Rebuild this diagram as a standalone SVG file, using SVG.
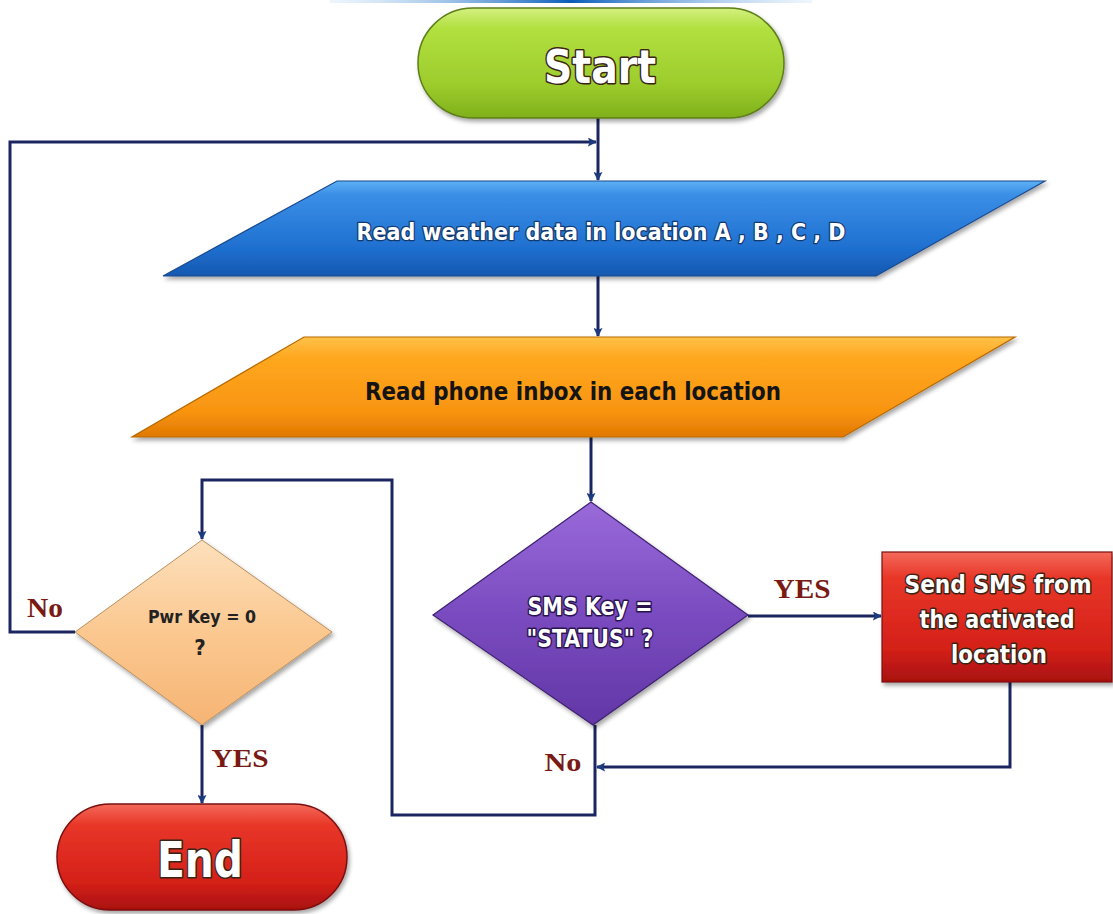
<svg xmlns="http://www.w3.org/2000/svg" width="1113" height="914" viewBox="0 0 1113 914">
<defs>
<style>
.lbl{font-family:"DejaVu Sans Condensed","Liberation Sans Narrow","Open Sans",sans-serif;font-weight:bold;font-stretch:condensed;text-anchor:middle}
.wt{fill:#ffffff;stroke:#3a2418;stroke-width:3;stroke-linejoin:round;paint-order:stroke}
.dk{fill:#141414}
.sr{font-family:"Liberation Serif","DejaVu Serif",serif;font-weight:bold;fill:#7a1a14;text-anchor:middle}
.cn{fill:none;stroke:#1b2660;stroke-width:3;stroke-linejoin:miter}
</style>
<linearGradient id="gTop" x1="0" y1="0" x2="1" y2="0">
<stop offset="0" stop-color="#a8d0f4" stop-opacity="0.2"/>
<stop offset="0.5" stop-color="#0a5cb8"/>
<stop offset="1" stop-color="#a8d0f4" stop-opacity="0.2"/>
</linearGradient>
<linearGradient id="gGreen" x1="0" y1="0" x2="0" y2="1">
<stop offset="0" stop-color="#d4f080"/>
<stop offset="0.18" stop-color="#b2e040"/>
<stop offset="0.7" stop-color="#9ccc2c"/>
<stop offset="1" stop-color="#7fb01a"/>
</linearGradient>
<linearGradient id="gRed" x1="0" y1="0" x2="0" y2="1">
<stop offset="0" stop-color="#f46a5a"/>
<stop offset="0.2" stop-color="#e83628"/>
<stop offset="0.75" stop-color="#d42018"/>
<stop offset="1" stop-color="#a81010"/>
</linearGradient>
<linearGradient id="gBlue" x1="0" y1="0" x2="0" y2="1">
<stop offset="0" stop-color="#5cb0f4"/>
<stop offset="0.15" stop-color="#3a8ee6"/>
<stop offset="0.7" stop-color="#1f70d0"/>
<stop offset="1" stop-color="#1558b0"/>
</linearGradient>
<linearGradient id="gOrange" x1="0" y1="0" x2="0" y2="1">
<stop offset="0" stop-color="#ffc24a"/>
<stop offset="0.2" stop-color="#ffa820"/>
<stop offset="0.75" stop-color="#f89410"/>
<stop offset="1" stop-color="#e07800"/>
</linearGradient>
<linearGradient id="gPurple" x1="0" y1="0" x2="0" y2="1">
<stop offset="0" stop-color="#9a6ada"/>
<stop offset="0.5" stop-color="#7a4cc0"/>
<stop offset="1" stop-color="#6236a6"/>
</linearGradient>
<linearGradient id="gPeach" x1="0" y1="0" x2="0" y2="1">
<stop offset="0" stop-color="#fde0bc"/>
<stop offset="0.5" stop-color="#fbc890"/>
<stop offset="1" stop-color="#f6b474"/>
</linearGradient>
<filter id="sh" x="-10%" y="-10%" width="120%" height="130%">
<feDropShadow dx="2" dy="3" stdDeviation="2" flood-color="#000" flood-opacity="0.35"/>
</filter>
<marker id="ah" viewBox="0 0 10 10" refX="9" refY="5" markerWidth="9" markerHeight="9" markerUnits="userSpaceOnUse" orient="auto">
<path d="M0,0 L10,5 L0,10 L2,5 z" fill="#1b3a80"/>
</marker>
</defs>
<rect width="1113" height="914" fill="#ffffff"/>
<rect x="330" y="0" width="482" height="3" fill="url(#gTop)"/>

<g id="connectors">
<path class="cn" d="M598 118 V180" marker-end="url(#ah)"/>
<path class="cn" d="M75 632 H10 V142 H596" marker-end="url(#ah)"/>
<path class="cn" d="M598 276 V336" marker-end="url(#ah)"/>
<path class="cn" d="M591 437 V501" marker-end="url(#ah)"/>
<path class="cn" d="M748 616 H881" marker-end="url(#ah)"/>
<path class="cn" d="M1010 682 V767 H597" marker-end="url(#ah)"/>
<path class="cn" d="M595 725 V815 H392 V480 H202 V539" marker-end="url(#ah)"/>
<path class="cn" d="M202 725 V803" marker-end="url(#ah)"/>
</g>

<g id="start">
<rect x="418" y="8" width="366" height="110" rx="55" fill="url(#gGreen)" stroke="#5e7e1a" stroke-width="1.5" filter="url(#sh)"/>
<text class="lbl wt" x="600" y="83" font-size="46" textLength="112" lengthAdjust="spacingAndGlyphs">Start</text>
</g>

<g id="read-weather">
<polygon points="337,181 1045,181 876,276 163,276" fill="url(#gBlue)" stroke="#1a4a90" stroke-width="1.2" filter="url(#sh)"/>
<text class="lbl wt" x="601" y="240" font-size="23" textLength="489" lengthAdjust="spacingAndGlyphs" style="stroke-width:2.5;stroke:#123a70">Read weather data in location A , B , C , D</text>
</g>

<g id="read-inbox">
<polygon points="304,337 1015,337 843,437 132,437" fill="url(#gOrange)" stroke="#b86a00" stroke-width="1.2" filter="url(#sh)"/>
<text class="lbl dk" x="573" y="400" font-size="24" textLength="416" lengthAdjust="spacingAndGlyphs">Read phone inbox in each location</text>
</g>

<g id="sms-key">
<polygon points="591,502 748,615 593,725 433,615" fill="url(#gPurple)" stroke="#3e2070" stroke-width="1.2" filter="url(#sh)"/>
<text class="lbl wt" x="590" y="615" font-size="25" textLength="125" lengthAdjust="spacingAndGlyphs" style="stroke:#2a1450">SMS Key =</text>
<text class="lbl wt" x="590" y="647" font-size="25" textLength="127" lengthAdjust="spacingAndGlyphs" style="stroke:#2a1450">"STATUS" ?</text>
</g>

<g id="send-sms">
<rect x="882" y="552" width="230" height="130" fill="url(#gRed)" stroke="#7a1010" stroke-width="1.2" filter="url(#sh)"/>
<text class="lbl wt" x="998" y="593" font-size="25" textLength="187" lengthAdjust="spacingAndGlyphs">Send SMS from</text>
<text class="lbl wt" x="997" y="628" font-size="25" textLength="155" lengthAdjust="spacingAndGlyphs">the activated</text>
<text class="lbl wt" x="999" y="663" font-size="25" textLength="96" lengthAdjust="spacingAndGlyphs">location</text>
</g>

<g id="pwr-key">
<polygon points="202,540 332,632 202,725 75,632" fill="url(#gPeach)" stroke="#b89060" stroke-width="1" filter="url(#sh)"/>
<text class="lbl dk" x="202" y="623" font-size="17" textLength="108" lengthAdjust="spacingAndGlyphs" style="fill:#222">Pwr Key = 0</text>
<text class="lbl dk" x="200" y="655" font-size="22" style="fill:#222">?</text>
</g>

<g id="end">
<rect x="57" y="804" width="290" height="106" rx="53" fill="url(#gRed)" stroke="#7a1010" stroke-width="1.5" filter="url(#sh)"/>
<text class="lbl wt" x="200" y="877" font-size="50" textLength="86" lengthAdjust="spacingAndGlyphs">End</text>
</g>

<g id="labels">
<text class="sr" x="802" y="598" font-size="27" textLength="57" lengthAdjust="spacingAndGlyphs">YES</text>
<text class="sr" x="45" y="617" font-size="27" textLength="36" lengthAdjust="spacingAndGlyphs">No</text>
<text class="sr" x="240" y="767" font-size="26" textLength="57" lengthAdjust="spacingAndGlyphs">YES</text>
<text class="sr" x="563" y="771" font-size="26" textLength="37" lengthAdjust="spacingAndGlyphs">No</text>
</g>
</svg>
